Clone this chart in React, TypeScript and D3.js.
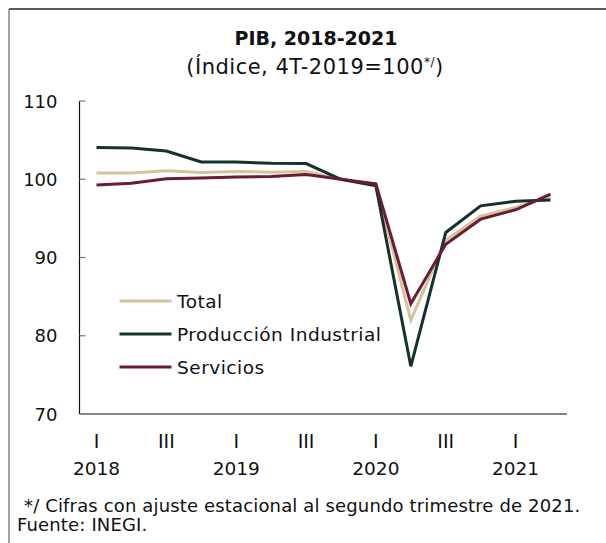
import React from "react";
import * as d3 from "d3";

const quarters = ["2018-I","2018-II","2018-III","2018-IV","2019-I","2019-II","2019-III","2019-IV","2020-I","2020-II","2020-III","2020-IV","2021-I","2021-II"];
const total = [100.8, 100.8, 101.1, 100.85, 101.0, 100.9, 101.0, 100.0, 99.35, 82.0, 92.25, 95.3, 96.4, 97.75];
const industrial = [104.05, 104.0, 103.6, 102.2, 102.2, 102.05, 102.0, 100.0, 99.15, 76.1, 93.2, 96.6, 97.2, 97.35];
const servicios = [99.27, 99.5, 100.05, 100.15, 100.3, 100.35, 100.6, 100.0, 99.4, 84.1, 91.7, 94.9, 96.1, 98.1];
const yTicks = [70, 80, 90, 100, 110];
const quarterLabels = [{ i: 0, t: "I" }, { i: 2, t: "III" }, { i: 4, t: "I" }, { i: 6, t: "III" }, { i: 8, t: "I" }, { i: 10, t: "III" }, { i: 12, t: "I" }];
const yearLabels = [{ i: 0, t: "2018" }, { i: 4, t: "2019" }, { i: 8, t: "2020" }, { i: 12, t: "2021" }];

const series = [
  { name: "Total", values: total, color: "#D6C29C" },
  { name: "Producción Industrial", values: industrial, color: "#13322B" },
  { name: "Servicios", values: servicios, color: "#691C32" },
];

const FONT = "'DejaVu Sans', sans-serif";

export default function App() {
  const W = 606, H = 543;
  const x = d3.scaleLinear().domain([0, quarters.length - 1]).range([96.5, 550.5]);
  const y = d3.scaleLinear().domain([70, 110]).range([414, 101]);
  const line = d3.line<number>().x((_, i) => x(i)).y((v) => y(v));
  const legendY = [301, 334, 367];

  return (
    <svg width={W} height={H} style={{ position: "absolute", left: 0, top: 0, background: "#fff" }} fontFamily={FONT}>
      <rect x={0} y={0} width={W} height={H} fill="#fff" />
      {/* frame */}
      <line x1={9} y1={9} x2={W} y2={9} stroke="#222" strokeWidth={1.6} />
      <line x1={9} y1={9} x2={9} y2={H} stroke="#666" strokeWidth={1.2} />

      {/* title */}
      <text x={316} y={45} textAnchor="middle" fontSize={19} fontWeight="bold" fill="#111">PIB, 2018-2021</text>
      <text x={315} y={74} textAnchor="middle" fontSize={21} letterSpacing={0.5} fill="#111">
        (Índice, 4T-2019=100<tspan fontSize={12} dy={-8}>*/</tspan><tspan dy={8}>)</tspan>
      </text>

      {/* y axis */}
      <line x1={79.5} y1={y(110)} x2={79.5} y2={y(70)} stroke="#111" strokeWidth={1.2} />
      {yTicks.map((t) => (
        <g key={t}>
          {t > 70 && <line x1={79.5} x2={85.5} y1={y(t)} y2={y(t)} stroke="#777" strokeWidth={1.2} />}
          <text x={57.5} y={y(t) + 6.5} textAnchor="end" fontSize={18} fill="#111">{t}</text>
        </g>
      ))}
      {/* x axis */}
      <line x1={79.5} x2={567} y1={y(70)} y2={y(70)} stroke="#111" strokeWidth={1.2} />
      {quarterLabels.map((q) => (
        <text key={"q" + q.i} x={x(q.i)} y={448} textAnchor="middle" fontSize={19} fill="#111">{q.t}</text>
      ))}
      {yearLabels.map((q) => (
        <text key={"y" + q.i} x={x(q.i)} y={475} textAnchor="middle" fontSize={18.5} fill="#111">{q.t}</text>
      ))}

      {/* lines */}
      {series.map((s) => (
        <path key={s.name} d={line(s.values) || ""} fill="none" stroke={s.color} strokeWidth={3} />
      ))}

      {/* legend */}
      {series.map((s, i) => (
        <g key={"l" + s.name}>
          <line x1={119.5} x2={171.5} y1={legendY[i]} y2={legendY[i]} stroke={s.color} strokeWidth={3} />
          <text x={177} y={legendY[i] + 6.5} fontSize={18.5} letterSpacing={0.5} fill="#111">{s.name}</text>
        </g>
      ))}

      {/* footnotes */}
      <text x={24} y={512} fontSize={18} letterSpacing={0.15} fill="#111">*/ Cifras con ajuste estacional al segundo trimestre de 2021.</text>
      <text x={17} y={531} fontSize={18} letterSpacing={0.15} fill="#111">Fuente: INEGI.</text>
    </svg>
  );
}
